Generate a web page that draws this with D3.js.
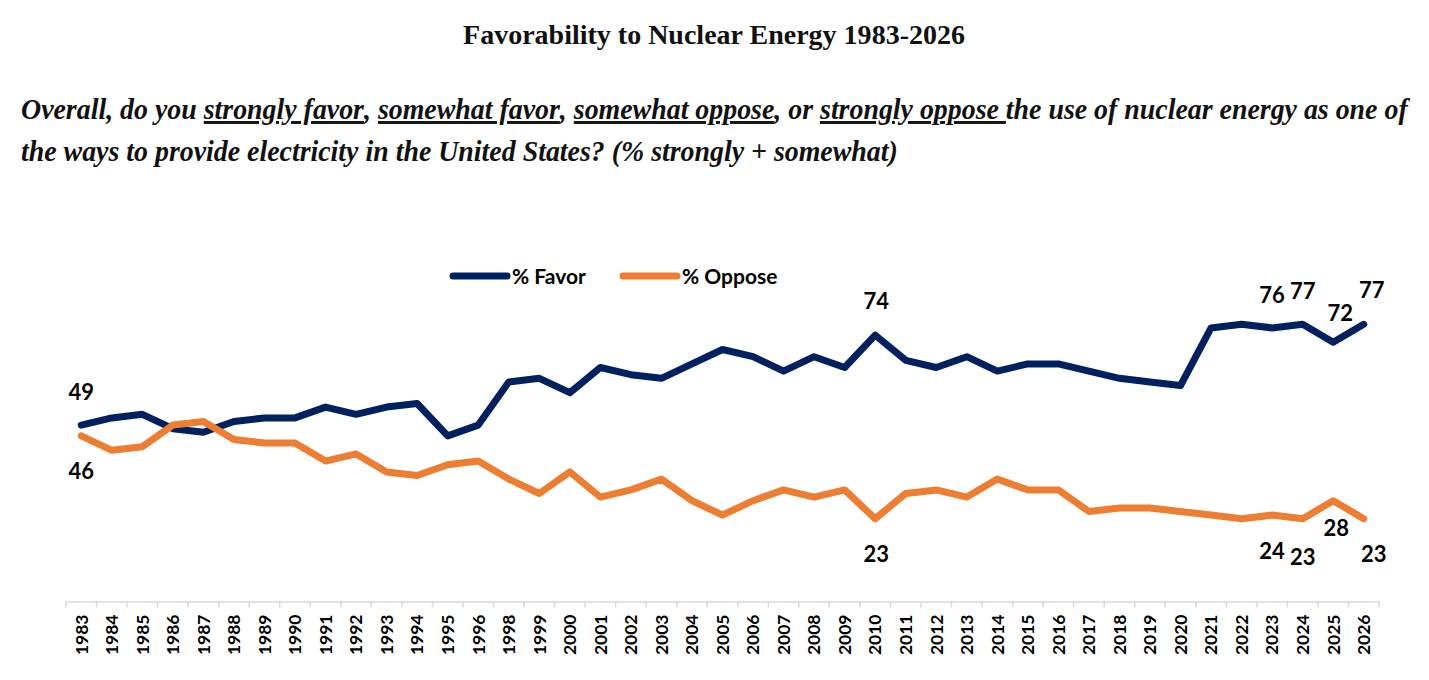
<!DOCTYPE html>
<html lang="en">
  <head>
    <meta charset="UTF-8" />
    <title>Favorability to Nuclear Energy 1983-2026</title>
    <script src="https://cdn.jsdelivr.net/npm/d3@7/dist/d3.min.js"></script>
    <style>
      body { margin: 0; background: #fff; }
      svg { display: block; }
    </style>
  </head>
  <body>
    <svg width="1429" height="680"></svg>

    <script>
      // Survey years (no 1997 poll)
      const years = [
        "1983", "1984", "1985", "1986", "1987", "1988", "1989", "1990", "1991",
        "1992", "1993", "1994", "1995", "1996", "1998", "1999", "2000", "2001",
        "2002", "2003", "2004", "2005", "2006", "2007", "2008", "2009", "2010",
        "2011", "2012", "2013", "2014", "2015", "2016", "2017", "2018", "2019",
        "2020", "2021", "2022", "2023", "2024", "2025", "2026"
      ];

      // % strongly + somewhat favor
      const favor = [
        49, 51, 52, 48, 47, 50, 51, 51, 54, 52, 54, 55, 46, 49, 61, 62, 58, 65,
        63, 62, 66, 70, 68, 64, 68, 65, 74, 67, 65, 68, 64, 66, 66, 64, 62, 61,
        60, 76, 77, 76, 77, 72, 77
      ];

      // % strongly + somewhat oppose
      const oppose = [
        46, 42, 43, 49, 50, 45, 44, 44, 39, 41, 36, 35, 38, 39, 34, 30, 36, 29,
        31, 34, 28, 24, 28, 31, 29, 31, 23, 30, 31, 29, 34, 31, 31, 25, 26, 26,
        25, 24, 23, 24, 23, 28, 23
      ];

      // years that carry a value label
      const labelYears = ["1983", "2010", "2023", "2024", "2025", "2026"];

      const navy = "#002060";
      const orange = "#ed7d31";

      const svg = d3.select("svg");

      // horizontal scale factor so a text spans the target width
      function fitScale(text, target) {
        const w = text.node().getComputedTextLength();
        return target / w;
      }

      //Title
      const titleG = svg.append("g");
      const title = titleG
        .append("text")
        .attr("x", 0)
        .attr("y", 0)
        .attr("text-anchor", "middle")
        .attr("font-family", "'Liberation Serif', serif")
        .attr("font-weight", "bold")
        .attr("font-size", 28)
        .attr("fill", "#111")
        .text("Favorability to Nuclear Energy 1983-2026");
      const tsx = fitScale(title, 502);
      titleG.attr("transform", `translate(714,44) scale(${tsx},1)`);

      //Question text with underlined answer choices
      const q1 = [
        ["Overall, do you ", false],
        ["strongly favor", true],
        [", ", false],
        ["somewhat favor", true],
        [", ", false],
        ["somewhat oppose", true],
        [", or ", false],
        ["strongly oppose ", true],
        ["the use of nuclear energy as one of", false]
      ];
      const q2 = "the ways to provide electricity in the United States? (% strongly + somewhat)";

      const qG = svg.append("g");
      const line1 = qG
        .append("text")
        .attr("x", 0)
        .attr("y", 0)
        .attr("font-family", "'Liberation Serif', serif")
        .attr("font-weight", "bold")
        .attr("font-style", "italic")
        .attr("font-size", 29)
        .attr("fill", "#111")
        .style("white-space", "pre");
      line1
        .selectAll("tspan")
        .data(q1)
        .enter()
        .append("tspan")
        .style("text-decoration", (d) => (d[1] ? "underline" : "none"))
        .text((d) => d[0]);
      qG.append("text")
        .attr("x", 0)
        .attr("y", 42)
        .attr("font-family", "'Liberation Serif', serif")
        .attr("font-weight", "bold")
        .attr("font-style", "italic")
        .attr("font-size", 29)
        .attr("fill", "#111")
        .text(q2);
      const qsx = fitScale(line1, 1384);
      qG.attr("transform", `translate(21,119) scale(${qsx},1)`);

      //Scales
      const x = d3.scaleBand().domain(years).range([66, 1379]).padding(0);
      const y = d3.scaleLinear().domain([0, 100]).range([601.5, 241.5]);
      const cx = (d) => x(d) + x.bandwidth() / 2;

      //Axis
      const axisG = svg
        .append("g")
        .attr("transform", "translate(0,601.5)")
        .call(d3.axisBottom(x).tickSize(0).tickSizeOuter(0));
      axisG.select(".domain").attr("stroke", "#d9d9d9").attr("stroke-width", 1.5);
      axisG
        .selectAll(".tick text")
        .attr("transform", "rotate(-90)")
        .attr("x", -13)
        .attr("y", 0)
        .attr("dy", "0.36em")
        .attr("text-anchor", "end")
        .attr("font-family", "Lato, sans-serif")
        .attr("font-weight", "bold")
        .attr("font-size", 17.5)
        .attr("fill", "#000");

      // boundary tick marks between categories
      axisG
        .selectAll("line.sep")
        .data(years.map((d) => x(d)).concat([x.range()[1]]))
        .enter()
        .append("line")
        .attr("class", "sep")
        .attr("x1", (d) => d)
        .attr("x2", (d) => d)
        .attr("y1", 0)
        .attr("y2", 6)
        .attr("stroke", "#d9d9d9")
        .attr("stroke-width", 1.5);

      //Lines
      const series = [
        { name: "% Favor", values: favor, color: navy },
        { name: "% Oppose", values: oppose, color: orange }
      ];

      const line = d3
        .line()
        .x((d, i) => cx(years[i]))
        .y((d) => y(d));

      svg
        .append("g")
        .selectAll("path")
        .data(series)
        .enter()
        .append("path")
        .attr("d", (d) => line(d.values))
        .attr("fill", "none")
        .attr("stroke", (d) => d.color)
        .attr("stroke-width", 7)
        .attr("stroke-linejoin", "round")
        .attr("stroke-linecap", "round");

      //Value labels
      const favorOffsets = { "1983": [0, -33], "2010": [1, -34], "2023": [0, -33], "2024": [0, -33], "2025": [7, -29], "2026": [8, -34] };
      const opposeOffsets = { "1983": [0, 35], "2010": [1, 35], "2023": [0, 36], "2024": [0, 38], "2025": [3, 27], "2026": [10, 35] };

      const labels = [];
      labelYears.forEach(function (yr) {
        const i = years.indexOf(yr);
        labels.push({ yr: yr, v: favor[i], off: favorOffsets[yr] });
        labels.push({ yr: yr, v: oppose[i], off: opposeOffsets[yr] });
      });

      svg
        .append("g")
        .selectAll("text")
        .data(labels)
        .enter()
        .append("text")
        .attr("x", (d) => cx(d.yr) + d.off[0])
        .attr("y", (d) => y(d.v) + d.off[1])
        .attr("dy", "0.36em")
        .attr("text-anchor", "middle")
        .attr("font-family", "Lato, sans-serif")
        .attr("font-weight", "bold")
        .attr("font-size", 22)
        .attr("fill", "#000")
        .text((d) => d.v);

      //Legend
      const legend = svg
        .append("g")
        .selectAll("g")
        .data(series)
        .enter()
        .append("g")
        .attr("transform", (d, i) => `translate(${i === 0 ? 453 : 623},276)`);
      legend
        .append("line")
        .attr("x1", 0)
        .attr("x2", 54)
        .attr("stroke", (d) => d.color)
        .attr("stroke-width", 7)
        .attr("stroke-linecap", "round");
      legend
        .append("text")
        .attr("x", 59)
        .attr("dy", "0.36em")
        .attr("font-family", "Lato, sans-serif")
        .attr("font-weight", "bold")
        .attr("font-size", 21)
        .attr("fill", "#000")
        .text((d) => d.name);
    </script>
  </body>
</html>
